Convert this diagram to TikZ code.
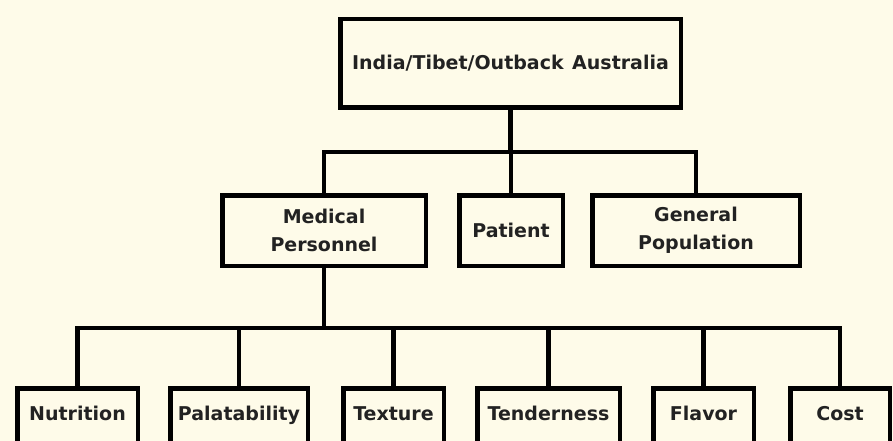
\documentclass[tikz,border=0pt]{standalone}
\usepackage{fontspec}
\setmainfont{DejaVu Sans}
\definecolor{bgcol}{RGB}{254,251,233}
\definecolor{txtcol}{RGB}{34,34,34}
\begin{document}
\begin{tikzpicture}[x=1pt,y=-1pt,
  box/.style={draw=black, line width=4.5pt, fill=bgcol, inner sep=0pt,
    text=txtcol, font=\fontsize{19pt}{28.5pt}\selectfont\bfseries, align=center},
  conn/.style={draw=black, line width=4.5pt},
  lbl/.style={text=txtcol, font=\fontsize{19pt}{28.5pt}\selectfont\bfseries, inner sep=0pt,
    text height=14pt, text depth=4pt}
]
\useasboundingbox (0,0) rectangle (893,441);
\clip (0,0) rectangle (893,441);
\fill[bgcol] (0,0) rectangle (893,441);

\coordinate (j1) at (511,152);
\coordinate (j2) at (324,328);

% level 1
\node[box, minimum width=340.5pt, minimum height=88.5pt] (top) at (510.5,63.5) {India/Tibet/Outback\hspace{0.45em}Australia};

% level 2
\node[box, minimum width=203.5pt, minimum height=70.5pt] (med) at (324,230.5) {Medical\\Personnel};
\node[box, minimum width=103.5pt, minimum height=70.5pt] (pat) at (511,230.5) {Patient};
\node[box, minimum width=207.5pt, minimum height=70.5pt] (gen) at (696,230.5) {General\\Population};

% level 3
\tikzset{bbox/.style={box, minimum height=59.5pt}}
\node[bbox, minimum width=120.5pt, label={[lbl,yshift=3pt]center:Nutrition}] (nut) at (77.5,418) {};
\node[bbox, minimum width=137.5pt, label={[lbl,yshift=3pt]center:Palatability}] (pal) at (239,418) {};
\node[bbox, minimum width=100.5pt, label={[lbl,yshift=3pt]center:Texture}] (tex) at (393.5,418) {};
\node[bbox, minimum width=142.5pt, label={[lbl,yshift=3pt]center:Tenderness}] (ten) at (548.5,418) {};
\node[bbox, minimum width=100.5pt, label={[lbl,yshift=3pt]center:Flavor}] (fla) at (703.5,418) {};
\node[bbox, minimum width=99.5pt, label={[lbl,yshift=3pt]center:Cost}] (cos) at (840,418) {};

% connectors
\draw[conn] (top.south) -- (top.south |- j1);
\draw[conn] (med.north) |- (j1);
\draw[conn] (gen.north) |- (j1);
\draw[conn] (pat.north) -- (pat.north |- j1);
\draw[conn] (med.south) -- (j2);
\draw[conn] (nut.north) |- (j2);
\draw[conn] (pal.north) -- (pal.north |- j2);
\draw[conn] (tex.north) -- (tex.north |- j2);
\draw[conn] (ten.north) -- (ten.north |- j2);
\draw[conn] (fla.north) -- (fla.north |- j2);
\draw[conn] (cos.north) |- (j2);
\end{tikzpicture}
\end{document}
